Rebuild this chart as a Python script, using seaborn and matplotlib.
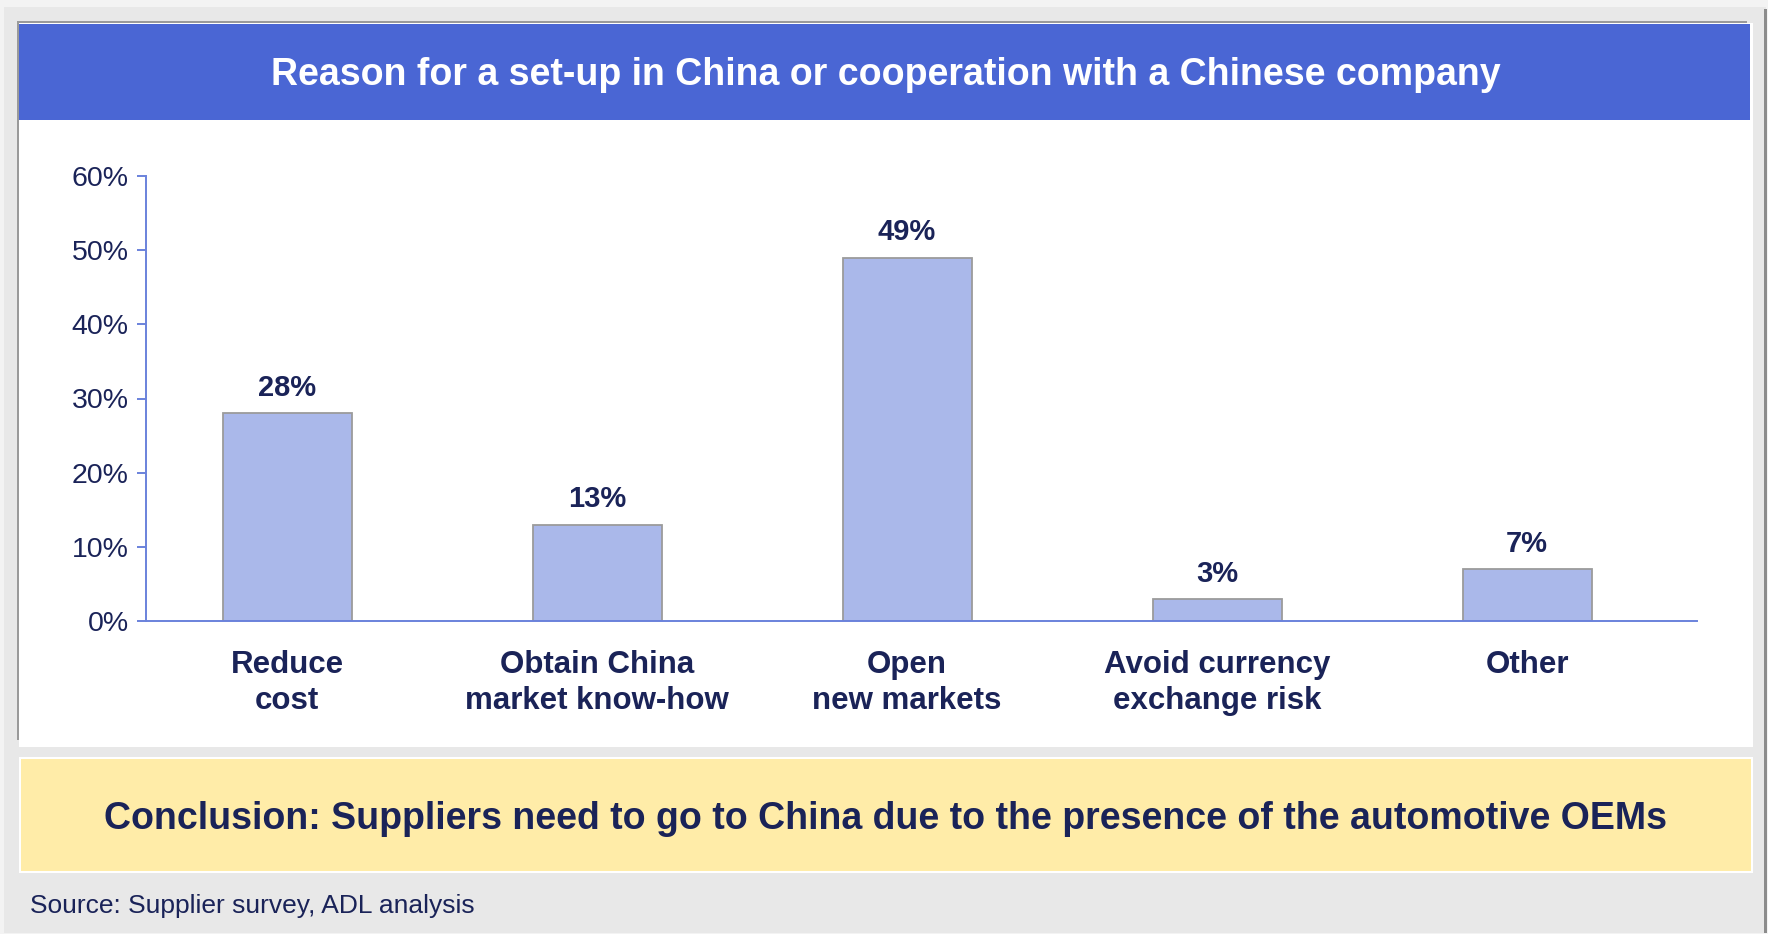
import matplotlib
matplotlib.use("Agg")
import matplotlib.pyplot as plt
from matplotlib.patches import Rectangle
from matplotlib.ticker import PercentFormatter
import seaborn as sns
import pandas as pd

# ---- data -------------------------------------------------------------
categories = [
    "Reduce\ncost",
    "Obtain China\nmarket know-how",
    "Open\nnew markets",
    "Avoid currency\nexchange risk",
    "Other",
]
shares = [0.28, 0.13, 0.49, 0.03, 0.07]
y_ticks = [0.0, 0.1, 0.2, 0.3, 0.4, 0.5, 0.6]

title = "Reason for a set-up in China or cooperation with a Chinese company"
conclusion = ("Conclusion: Suppliers need to go to China due to the presence "
              "of the automotive OEMs")
source = "Source: Supplier survey, ADL analysis"

# ---- style ------------------------------------------------------------
W, H, DPI = 1768, 934, 100
NAVY = "#1a2358"
BAND = "#4a66d4"
BAR = "#aab8ea"
BAR_EDGE = "#9b9b9b"
AXIS = "#6a82dc"
PANEL_GREY = "#e8e8e8"
SHADOW = "#9a9a9a"
NOTE = "#ffeca8"

sns.set_style("white")
plt.rcParams["font.family"] = ["Liberation Sans", "DejaVu Sans"]

fig = plt.figure(figsize=(W / DPI, H / DPI), dpi=DPI, facecolor="#f3f3f3")

# ---- slide frame, drawn in pixel units --------------------------------
bg = fig.add_axes([0, 0, 1, 1], zorder=0)
bg.set_xlim(0, W)
bg.set_ylim(H, 0)
bg.axis("off")


def panel(x0, y0, x1, y1, color):
    bg.add_patch(Rectangle((x0, y0), x1 - x0, y1 - y0,
                           facecolor=color, edgecolor="none"))


panel(4, 7, 1766, 933, PANEL_GREY)
panel(1764, 9, 1767, 933, "#8c8c8c")
panel(17, 21, 1747, 740, SHADOW)
panel(19, 23, 1753, 747, "white")
panel(19, 24, 1750, 120, BAND)
panel(19, 757, 1753, 873, "white")
panel(21, 759, 1751, 871, NOTE)

bg.text(886, 85, title, color="white", fontsize=27, fontweight="bold",
        ha="center", va="baseline")
bg.text(886, 829, conclusion, color=NAVY, fontsize=27, fontweight="bold",
        ha="center", va="baseline")
bg.text(30, 913, source, color=NAVY, fontsize=19, ha="left", va="baseline")

# ---- bar chart ----------------------------------------------------------
ax = fig.add_axes([146 / W, 1 - 621 / H, (1697 - 146) / W, (621 - 176) / H],
                  zorder=1)
ax.set_facecolor("none")

df = pd.DataFrame({"reason": categories, "share": shares})
sns.barplot(data=df, x="reason", y="share", color=BAR, saturation=1,
            edgecolor=BAR_EDGE, linewidth=1.3, width=0.416, ax=ax)

ax.bar_label(ax.containers[0], labels=[f"{v:.0%}" for v in shares],
             padding=8, color=NAVY, fontsize=21, fontweight="bold")

ax.set_ylim(0, 0.6)
ax.set_xlim(-0.455, 4.548)
ax.set_yticks(y_ticks)
ax.yaxis.set_major_formatter(PercentFormatter(1.0, decimals=0))
ax.set_xlabel("")
ax.set_ylabel("")

for side in ("top", "right"):
    ax.spines[side].set_visible(False)
for side in ("left", "bottom"):
    ax.spines[side].set_color(AXIS)
    ax.spines[side].set_linewidth(1.4)

ax.tick_params(axis="y", direction="out", length=6.5, width=1.4,
               color=AXIS, labelcolor=NAVY, labelsize=20.5, pad=6, left=True)
ax.tick_params(axis="x", length=0, labelcolor=NAVY, labelsize=22.5, pad=21)
for lbl in ax.get_xticklabels():
    lbl.set_fontweight("bold")
    lbl.set_linespacing(1.25)

fig.savefig("out.png", dpi=DPI, facecolor=fig.get_facecolor())
